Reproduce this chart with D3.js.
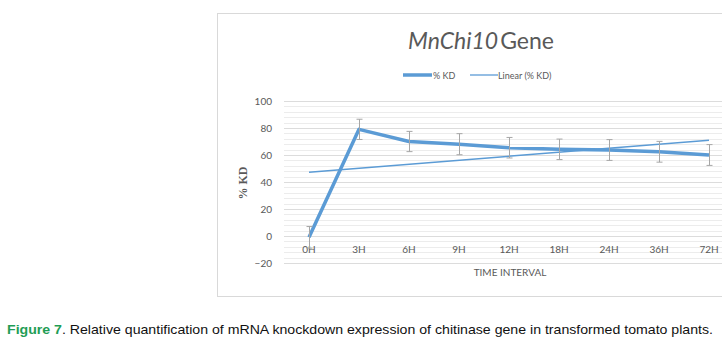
<!DOCTYPE html>
<html><head><meta charset="utf-8">
<script src="https://cdn.jsdelivr.net/npm/d3@7/dist/d3.min.js"></script>
<style>body{margin:0;background:#fff;}svg{display:block;}</style>
</head><body>
<svg id="c" width="722" height="356"></svg>
<script>
const categories = ["0H","3H","6H","9H","12H","18H","24H","36H","72H"];
const kd = [-1, 79, 70, 68, 65.4, 64.2, 63.7, 62.4, 60];
const kdErr = [8, 7.5, 7.5, 7.8, 7.6, 7.6, 7.7, 7.7, 7.7];
const yTicks = [-20, 0, 20, 40, 60, 80, 100];
const minorStep = 4;

const svg = d3.select("#c");
const blue = "#5b9bd5";
const grey = "#595959";

// chart frame
svg.append("rect").attr("x", 217.5).attr("y", 13.5).attr("width", 520).attr("height", 283)
  .attr("fill", "#fff").attr("stroke", "#d9d9d9").attr("stroke-width", 1);

const x = d3.scaleBand().domain(categories).range([284, 734]);
const y = d3.scaleLinear().domain([-20, 100]).range([263, 101]);

// minor gridlines
const minor = d3.range(-20, 100.01, minorStep);
svg.append("g").selectAll("line").data(minor).join("line")
  .attr("x1", 284).attr("x2", 734)
  .attr("y1", d => Math.round(y(d)) + 0.5).attr("y2", d => Math.round(y(d)) + 0.5)
  .attr("stroke", "#ececec").attr("stroke-width", 1);
// major gridlines
svg.append("g").selectAll("line").data(yTicks).join("line")
  .attr("x1", 284).attr("x2", 734)
  .attr("y1", d => Math.round(y(d)) + 0.5).attr("y2", d => Math.round(y(d)) + 0.5)
  .attr("stroke", "#dcdcdc").attr("stroke-width", 1);

// y axis labels
const yAxis = d3.axisLeft(y).tickValues(yTicks).tickSize(0).tickPadding(0);
const ga = svg.append("g").attr("transform", "translate(272,0)").call(yAxis);
ga.select(".domain").remove();
ga.selectAll("text").attr("fill", grey).attr("font-family", "Lato, 'Open Sans', sans-serif").attr("font-size", 10);

// x axis labels
const xAxis = d3.axisBottom(x).tickSize(0).tickPadding(0);
const gx = svg.append("g").attr("transform", "translate(0,246)").call(xAxis);
gx.select(".domain").remove();
gx.selectAll("text").attr("fill", grey).attr("font-family", "Lato, 'Open Sans', sans-serif").attr("font-size", 10);

// axis titles
svg.append("text").attr("x", 510).attr("y", 276).attr("text-anchor", "middle")
  .attr("fill", grey).attr("font-family", "Lato, 'Open Sans', sans-serif").attr("font-size", 10)
  .text("TIME INTERVAL");
svg.append("text").attr("transform", "translate(247,183) rotate(-90)").attr("text-anchor", "middle")
  .attr("fill", grey).attr("font-family", "'Liberation Serif', 'DejaVu Serif', serif").attr("font-weight", "bold").attr("font-size", 12)
  .text("% KD");

// title
const t = svg.append("text").attr("x", 481).attr("y", 49).attr("text-anchor", "middle")
  .attr("fill", grey).attr("font-family", "Lato, 'Open Sans', sans-serif").attr("font-size", 23);
t.append("tspan").attr("font-style", "italic").text("MnChi10");
t.append("tspan").attr("dx", 2).text("Gene");

// legend
svg.append("line").attr("x1", 403).attr("x2", 432).attr("y1", 75).attr("y2", 75).attr("stroke", blue).attr("stroke-width", 3.5);
svg.append("text").attr("x", 433).attr("y", 78.5).attr("fill", grey).attr("font-family", "Lato, 'Open Sans', sans-serif").attr("font-size", 9).text("% KD");
svg.append("line").attr("x1", 470).attr("x2", 498).attr("y1", 75).attr("y2", 75).attr("stroke", blue).attr("stroke-width", 1.3);
svg.append("text").attr("x", 498).attr("y", 78.5).attr("fill", grey).attr("font-family", "Lato, 'Open Sans', sans-serif").attr("font-size", 9).text("Linear (% KD)");

const cx = c => x(c) + x.bandwidth() / 2;

// linear trend
const n = kd.length;
const xs = d3.range(1, n + 1);
const mx = d3.mean(xs), my = d3.mean(kd);
const slope = d3.sum(xs, (v, i) => (v - mx) * (kd[i] - my)) / d3.sum(xs, v => (v - mx) ** 2);
const icpt = my - slope * mx;
svg.append("line")
  .attr("x1", cx(categories[0])).attr("y1", y(icpt + slope * 1))
  .attr("x2", cx(categories[n - 1])).attr("y2", y(icpt + slope * n))
  .attr("stroke", blue).attr("stroke-width", 1.5);

// main line
const line = d3.line().x((d, i) => cx(categories[i])).y(d => y(d));
svg.append("path").datum(kd).attr("d", line).attr("fill", "none")
  .attr("stroke", blue).attr("stroke-width", 3.5).attr("stroke-linejoin", "round");

// error bars
const eb = svg.append("g").attr("stroke", "#a6a6a6").attr("stroke-width", 1);
kd.forEach((v, i) => {
  const px = Math.round(cx(categories[i])) + 0.5;
  const top = y(v + kdErr[i]), bot = y(v - kdErr[i]);
  eb.append("line").attr("x1", px).attr("x2", px).attr("y1", top).attr("y2", bot);
  eb.append("line").attr("x1", px - 3).attr("x2", px + 3).attr("y1", top).attr("y2", top);
  eb.append("line").attr("x1", px - 3).attr("x2", px + 3).attr("y1", bot).attr("y2", bot);
});

// caption
const cap = svg.append("text").attr("x", 7).attr("y", 334)
  .attr("font-family", "'Liberation Sans', Arial, sans-serif").attr("font-size", 13.5)
  .attr("textLength", 706).attr("lengthAdjust", "spacingAndGlyphs");
cap.append("tspan").attr("fill", "#1f9d55").attr("font-weight", "bold").text("Figure 7");
cap.append("tspan").attr("fill", "#111").text(". Relative quantification of mRNA knockdown expression of chitinase gene in transformed tomato plants.");
</script>
</body></html>
